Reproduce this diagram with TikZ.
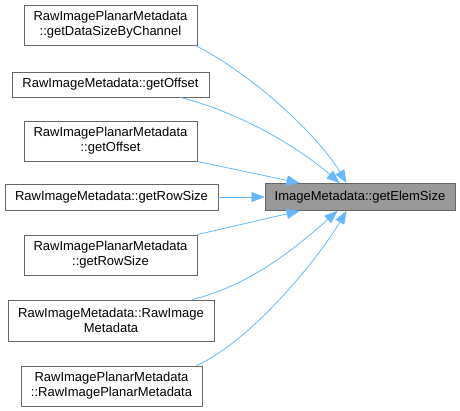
\documentclass[tikz,border=0pt]{standalone}
\usepackage{fontspec}
\setmainfont{Liberation Sans}
\usetikzlibrary{arrows.meta}
\definecolor{edgeblue}{HTML}{63B8FF}
\definecolor{boxborder}{HTML}{666666}
\definecolor{targetfill}{HTML}{999999}
\tikzset{
  fn/.style={draw=boxborder, line width=0.9pt, fill=white, align=center, inner sep=0pt,
    font=\fontsize{13}{15}\selectfont, text=black},
  target/.style={fn, fill=targetfill},
  call/.style={draw=edgeblue, line width=0.8pt, -{Triangle[length=13pt,width=10pt]}},
}
\begin{document}
\begin{tikzpicture}[x=1pt,y=-1pt]
\useasboundingbox (0,0) rectangle (460,411);
\node[fn, minimum width=173pt, minimum height=40pt] (n1) at (110.5,25) {RawImagePlanarMetadata\\::getDataSizeByChannel};
\node[fn, minimum width=197pt, minimum height=25pt] (n2) at (110.5,84.5) {RawImageMetadata::getOffset};
\node[fn, minimum width=173pt, minimum height=40pt] (n3) at (110.5,141) {RawImagePlanarMetadata\\::getOffset};
\node[fn, minimum width=213pt, minimum height=26pt] (n4) at (111.5,197) {RawImageMetadata::getRowSize};
\node[fn, minimum width=173pt, minimum height=40pt] (n5) at (110.5,255) {RawImagePlanarMetadata\\::getRowSize};
\node[fn, minimum width=206pt, minimum height=41pt] (n6) at (111,320.5) {RawImageMetadata::RawImage\\Metadata};
\node[fn, minimum width=181pt, minimum height=40pt] (n7) at (111.5,386) {RawImagePlanarMetadata\\::RawImagePlanarMetadata};
\node[target, minimum width=190pt, minimum height=27pt] (t) at (360,197) {ImageMetadata::getElemSize};

\draw[call] ([xshift=-2pt]n1.south east) .. controls +(55,28) and +(-30,-50) .. ([xshift=82pt]t.north west);
\draw[call] ([xshift=-29pt]n2.south east) .. controls +(60,15) and +(-40,-35) .. ([xshift=75pt]t.north west);
\draw[call] (n3.south east) -- ([xshift=35pt]t.north west);
\draw[call] (n4.east) -- (t.west);
\draw[call] (n5.north east) -- ([xshift=35pt]t.south west);
\draw[call] ([xshift=-22pt]n6.north east) .. controls +(60,-15) and +(-40,35) .. ([xshift=73pt]t.south west);
\draw[call] ([xshift=-6pt]n7.north east) .. controls +(55,-25) and +(-30,50) .. ([xshift=82pt]t.south west);
\end{tikzpicture}
\end{document}
